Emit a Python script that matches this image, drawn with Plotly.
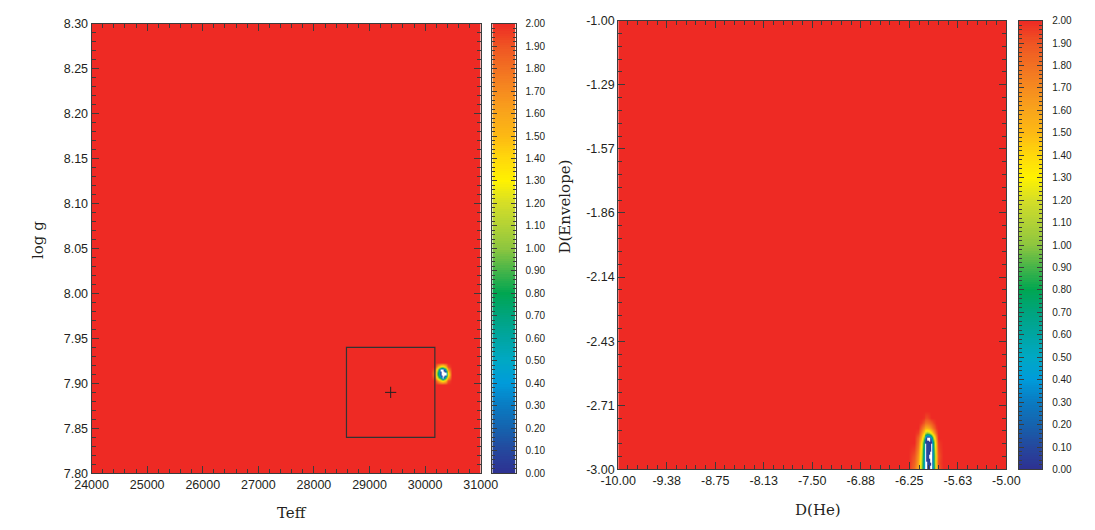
import numpy as np
import plotly.graph_objects as go

W, H = 1095, 530

# ---------------- data ----------------
# Left panel: reduced chi-square surface over (Teff, log g), saturated at 2.0
teff_grid = [24000, 30091, 30178, 30230, 30274, 30318, 30361, 30405, 30475, 31000]
logg_grid = [7.80, 7.8985, 7.9028, 7.9061, 7.9093, 7.9126, 7.9158, 7.9190, 7.9234, 8.30]
chi_teff_logg = [
    [2, 2, 2, 2.0, 2.0, 2.0, 2.0, 2.0, 2, 2],
    [2, 2, 2, 2.0, 2.0, 2.0, 2.0, 2.0, 2, 2],
    [2, 2, 2, 1.7, 1.4, 1.3, 1.5, 1.9, 2, 2],
    [2, 2, 1.9, 1.1, 0.6, -0.1, 0.8, 1.5, 2, 2],
    [2, 2, 1.8, 0.8, 0.05, -0.15, -0.1, 1.2, 2, 2],
    [2, 2, 1.8, 0.8, 0.1, -0.15, -0.1, 1.3, 2, 2],
    [2, 2, 1.9, 1.0, -0.1, -0.15, 0.6, 1.6, 2, 2],
    [2, 2, 2, 1.6, 1.3, 1.2, 1.5, 1.9, 2, 2],
    [2, 2, 2, 2.0, 2.0, 2.0, 2.0, 2.0, 2, 2],
    [2, 2, 2, 2.0, 2.0, 2.0, 2.0, 2.0, 2, 2],
]
# spectroscopic solution and its error box
spec_teff, spec_teff_err = 29380, 795
spec_logg, spec_logg_err = 7.89, 0.05

teff_ticks = [24000, 25000, 26000, 27000, 28000, 29000, 30000, 31000]
logg_ticks = [7.80, 7.85, 7.90, 7.95, 8.00, 8.05, 8.10, 8.15, 8.20, 8.25, 8.30]

# Right panel: chi-square surface over (D(He), D(Envelope))
dhe_grid = [-10.0, -6.26, -6.185, -6.135, -6.10, -6.065, -6.04, -6.015,
            -5.99, -5.965, -5.94, -5.91, -5.875, -5.81, -5.0]
denv_grid = [-3.00, -2.97, -2.94, -2.91, -2.88, -2.857, -2.835, -2.813,
             -2.79, -2.77, -2.74, -1.00]
chi_dhe_denv = [
    [2, 2, 1.8, 1.55, 1.1, 0.45, -0.1, 0.1, 0.05, -0.1, 0.55, 1.45, 1.88, 2, 2],
    [2, 2, 1.85, 1.6, 1.15, 0.45, -0.1, 0.08, 0.12, -0.1, 0.6, 1.5, 1.92, 2, 2],
    [2, 2, 1.9, 1.65, 1.2, 0.5, -0.1, 0.15, -0.05, -0.1, 0.6, 1.5, 1.9, 2, 2],
    [2, 2, 1.95, 1.72, 1.25, 0.55, -0.05, 0.1, 0.1, -0.05, 0.65, 1.55, 1.93, 2, 2],
    [2, 2, 2, 1.8, 1.35, 0.65, 0.0, 0.12, 0.05, 0.0, 0.75, 1.6, 1.96, 2, 2],
    [2, 2, 2, 1.85, 1.55, 0.95, 0.35, -0.1, -0.1, 0.4, 1.05, 1.72, 2, 2, 2],
    [2, 2, 2, 1.95, 1.7, 1.4, 1.15, 1.05, 1.15, 1.35, 1.58, 1.88, 2, 2, 2],
    [2, 2, 2, 2, 1.85, 1.68, 1.58, 1.58, 1.62, 1.72, 1.83, 1.97, 2, 2, 2],
    [2, 2, 2, 2, 1.97, 1.88, 1.8, 1.8, 1.83, 1.88, 1.94, 2, 2, 2, 2],
    [2, 2, 2, 2, 2, 1.98, 1.93, 1.93, 1.96, 2, 2, 2, 2, 2, 2],
    [2] * 15,
    [2] * 15,
]
dhe_ticks = [-10.0, -9.375, -8.75, -8.125, -7.5, -6.875, -6.25, -5.625, -5.0]
dhe_labels = ["-10.00", "-9.38", "-8.75", "-8.13", "-7.50", "-6.88", "-6.25", "-5.63", "-5.00"]
denv_ticks = [-1.0, -1.2857, -1.5714, -1.8571, -2.1429, -2.4286, -2.7143, -3.0]
denv_labels = ["-1.00", "-1.29", "-1.57", "-1.86", "-2.14", "-2.43", "-2.71", "-3.00"]

# colour bar levels
bar_levels = [round(0.01 * i, 2) for i in range(201)]
bar_ticks = [round(0.1 * i, 1) for i in range(21)]
bar_labels = [f"{v:.2f}" for v in bar_ticks]

# ---------------- styling ----------------
palette = [
    (0.0, "#2E3192"), (0.1, "#25479D"), (0.2, "#1563AE"), (0.3, "#0A7BC2"),
    (0.4, "#009BDA"), (0.5, "#00A8C4"), (0.6, "#00A5A2"), (0.7, "#00A47E"),
    (0.8, "#00A651"), (0.9, "#45B449"), (1.0, "#8DC63F"), (1.1, "#B2D235"),
    (1.2, "#D5DE27"), (1.3, "#FFF200"), (1.4, "#FFD80B"), (1.5, "#FDB913"),
    (1.6, "#F9A51B"), (1.7, "#F68B1F"), (1.8, "#F27022"), (1.9, "#EF5423"),
    (2.0, "#EE2A24"),
]
ZMAX = 2.0
ZLO = -0.2  # values below zero are left unfilled (white)
bar_scale = [[v / ZMAX, c] for v, c in palette]
field_scale = [[0.0, "#FFFFFF"], [(-0.001 - ZLO) / (ZMAX - ZLO), "#FFFFFF"]] + \
              [[(v - ZLO) / (ZMAX - ZLO), c] for v, c in palette]

AX = "#3C3C3C"
TICKFONT = dict(family="Liberation Sans, Arial, sans-serif", size=12.5, color="#231F20")
BARFONT = dict(family="Liberation Sans, Arial, sans-serif", size=10, color="#231F20")
TITLEFONT = dict(family="DejaVu Serif, serif", size=15, color="#231F20")


def fx(p):
    return p / W


def fy(p):
    return 1 - p / H


fig = go.Figure()

# left panel field
fig.add_trace(go.Heatmap(
    x=teff_grid, y=logg_grid, z=chi_teff_logg, zsmooth="best",
    colorscale=field_scale, zmin=ZLO, zmax=ZMAX, showscale=False,
    xaxis="x", yaxis="y", hoverinfo="skip"))
fig.add_trace(go.Scatter(
    x=[spec_teff], y=[spec_logg], mode="markers",
    marker=dict(symbol="cross-thin", size=8, line=dict(color="#222222", width=1)),
    xaxis="x", yaxis="y", showlegend=False, hoverinfo="skip"))
fig.add_shape(type="rect", xref="x", yref="y",
              x0=spec_teff - spec_teff_err, x1=spec_teff + spec_teff_err,
              y0=spec_logg - spec_logg_err, y1=spec_logg + spec_logg_err,
              line=dict(color="#333333", width=1.2))

# right panel field
fig.add_trace(go.Heatmap(
    x=dhe_grid, y=denv_grid, z=chi_dhe_denv, zsmooth="best",
    colorscale=field_scale, zmin=ZLO, zmax=ZMAX, showscale=False,
    xaxis="x2", yaxis="y2", hoverinfo="skip"))

# colour bars drawn as narrow heatmaps
for xa, ya in (("x3", "y3"), ("x4", "y4")):
    fig.add_trace(go.Heatmap(
        x=[0], y=bar_levels, z=[[v] for v in bar_levels],
        colorscale=bar_scale, zmin=0, zmax=ZMAX, showscale=False,
        xaxis=xa, yaxis=ya, hoverinfo="skip"))

common = dict(showline=True, linecolor=AX, linewidth=1, mirror="ticks",
              ticks="inside", tickcolor=AX, tickwidth=1, ticklen=7,
              showgrid=False, zeroline=False, tickfont=TICKFONT)

L = dict(x0=76, x1=478, y0=17, y1=479)
R = dict(x0=620, x1=1021, y0=14, y1=475)

fig.update_layout(
    width=W, height=H, margin=dict(l=0, r=0, t=0, b=0),
    paper_bgcolor="white", plot_bgcolor="white", showlegend=False,
    xaxis=dict(domain=[fx(L["x0"]), fx(L["x1"])], range=[24000, 31000],
               tickvals=teff_ticks, ticktext=[str(v) for v in teff_ticks],
               minor=dict(dtick=200, tick0=24000, ticklen=4, tickcolor=AX, ticks="inside"),
               anchor="y", **common),
    yaxis=dict(domain=[fy(L["y1"]), fy(L["y0"])], range=[7.80, 8.30],
               tickvals=logg_ticks, ticktext=[f"{v:.2f}" for v in logg_ticks],
               minor=dict(dtick=0.01, tick0=7.8, ticklen=4, tickcolor=AX, ticks="inside"),
               anchor="x", **common),
    xaxis2=dict(domain=[fx(R["x0"]), fx(R["x1"])], range=[-10, -5],
                tickvals=dhe_ticks, ticktext=dhe_labels,
                minor=dict(dtick=0.125, tick0=-10, ticklen=4, tickcolor=AX, ticks="inside"),
                anchor="y2", **common),
    yaxis2=dict(domain=[fy(R["y1"]), fy(R["y0"])], range=[-3, -1],
                tickvals=denv_ticks, ticktext=denv_labels,
                minor=dict(dtick=2 / 35, tick0=-3, ticklen=4, tickcolor=AX, ticks="inside"),
                anchor="x2", **common),
)

for i, (bx0, bx1, py0, py1) in ((3, (490, 514, L["y0"], L["y1"])),
                                (4, (1034, 1058, R["y0"], R["y1"]))):
    fig.update_layout(**{
        f"xaxis{i}": dict(domain=[fx(bx0), fx(bx1)], range=[-0.5, 0.5],
                          showticklabels=False, ticks="", showgrid=False, zeroline=False,
                          showline=True, linecolor=AX, mirror=True, anchor=f"y{i}"),
        f"yaxis{i}": dict(domain=[fy(py1), fy(py0)], range=[0, 2], side="right",
                          tickvals=bar_ticks, ticktext=bar_labels,
                          showline=True, linecolor=AX, mirror="ticks",
                          ticks="inside", ticklen=5, tickcolor=AX,
                          minor=dict(dtick=0.02, tick0=0, ticklen=3, tickcolor=AX, ticks="inside"),
                          showgrid=False, zeroline=False, tickfont=BARFONT,
                          ticklabelstandoff=7, anchor=f"x{i}"),
    })

# axis titles
titles = [
    ("Teff", (L["x0"] + L["x1"]) / 2 + 6, 520, 0),
    ("log g", 20, 239, -90),
    ("D(He)", (R["x0"] + R["x1"]) / 2 + 6, 517, 0),
    ("D(Envelope)", 565, 205, -90),
]
for text, px, py, ang in titles:
    fig.add_annotation(text=text, x=fx(px), y=fy(py), xref="paper", yref="paper",
                       showarrow=False, xanchor="center", yanchor="middle",
                       textangle=ang, font=TITLEFONT)

fig.write_html("out.html")
